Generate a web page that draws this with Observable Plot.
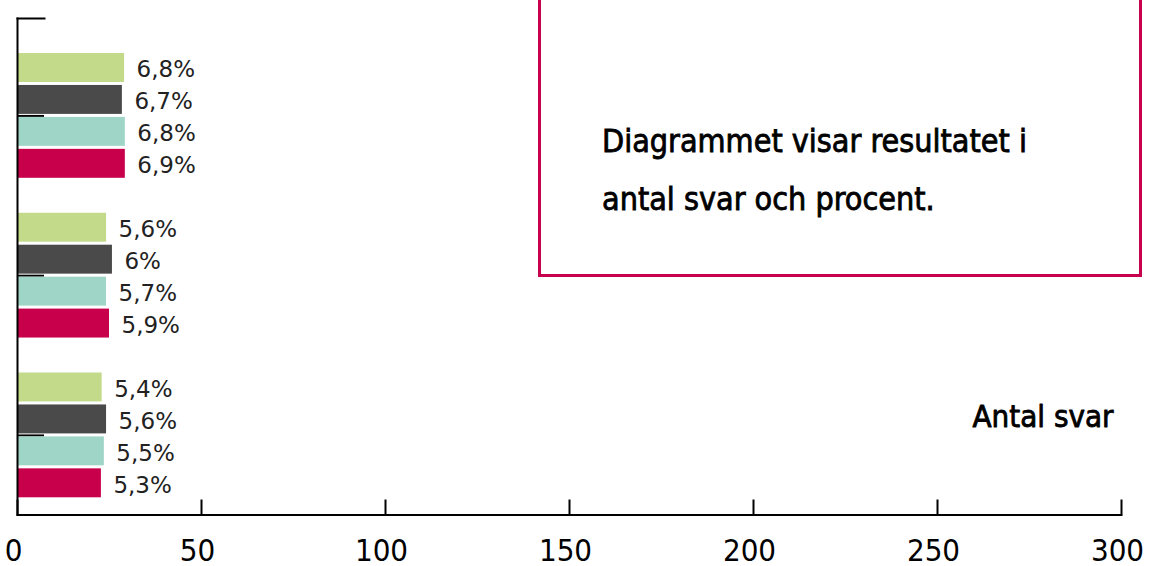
<!DOCTYPE html>
<html>
<head>
<meta charset="utf-8">
<script src="https://cdn.jsdelivr.net/npm/d3@7"></script>
<script src="https://cdn.jsdelivr.net/npm/@observablehq/plot@0.6"></script>
<style>
  html, body { margin: 0; padding: 0; background: #fff; overflow: hidden; }
  #wrap { position: relative; width: 1155px; height: 566px; }
  #note {
    position: absolute; left: 538px; top: -10px; width: 604px; height: 287px;
    border: 3px solid #c8004e; box-sizing: border-box;
    font-family: "DejaVu Sans Condensed", "DejaVu Sans", sans-serif; font-stretch: condensed;
    font-size: 32px; line-height: 58px; color: #000;
    padding-left: 61px; padding-top: 119px;
    -webkit-text-stroke: 0.8px #000;
  }
  #note div { white-space: nowrap; }
</style>
</head>
<body>
<div id="wrap"></div>
<script>
// Categories (groups, top to bottom) and series (bars within a group, top to bottom)
const categories = ["Grupp 1", "Grupp 2", "Grupp 3"];
const series = ["Serie 1", "Serie 2", "Serie 3", "Serie 4"];
const seriesColors = ["#c2da8a", "#4a4a4a", "#9fd5c7", "#c8004b"];

// Antal svar per series (one value per category)
const serie1Values = [29.1, 24.2, 23.0];
const serie2Values = [28.5, 25.8, 24.2];
const serie3Values = [29.3, 24.2, 23.6];
const serie4Values = [29.3, 25.0, 22.8];

// Percent labels per series
const serie1Labels = ["6,8%", "5,6%", "5,4%"];
const serie2Labels = ["6,7%", "6%", "5,6%"];
const serie3Labels = ["6,8%", "5,7%", "5,5%"];
const serie4Labels = ["6,9%", "5,9%", "5,3%"];

const xTicks = [0, 50, 100, 150, 200, 250, 300];
const axisTitle = "Antal svar";
const noteLines = ["Diagrammet visar resultatet i", "antal svar och procent."];

const valuesBySeries = [serie1Values, serie2Values, serie3Values, serie4Values];
const labelsBySeries = [serie1Labels, serie2Labels, serie3Labels, serie4Labels];

const data = [];
categories.forEach((c, ci) => {
  series.forEach((s, si) => {
    data.push({category: c, series: s, slot: `${c}|${s}`, value: valuesBySeries[si][ci], label: labelsBySeries[si][ci]});
  });
});
// slot domain: 4 bars per group with an empty slot between groups
const slots = [];
categories.forEach((c, ci) => {
  series.forEach(s => slots.push(`${c}|${s}`));
  if (ci < categories.length - 1) slots.push(`gap${ci}`);
});

const W = 1155, H = 566;
const mL = 17, mR = 34, mT = 18, mB = 51.5;
const condensed = "'DejaVu Sans Condensed', 'DejaVu Sans', sans-serif";

const chart = Plot.plot({
  width: W, height: H,
  marginLeft: mL, marginRight: mR, marginTop: mT, marginBottom: mB,
  style: {background: "transparent", overflow: "visible"},
  x: {domain: [0, 300], axis: null},
  y: {domain: slots, padding: 0.094, round: false, insetTop: 32, insetBottom: 14.2, axis: null},
  color: {domain: series, range: seriesColors},
  marks: [
    // y-axis category ticks (group centers), drawn behind bars
    Plot.ruleY(categories, {y: c => `${c}|${series[1]}`, dy: 16, x1: 0, x2: 0, insetRight: -27, stroke: "#000", strokeWidth: 2}),
    Plot.frame({anchor: "top", insetRight: W - mR - 44, stroke: "#000", strokeWidth: 2}),
    Plot.barX(data, {x: "value", y: "slot", fill: "series"}),
    Plot.text(data, {x: "value", y: "slot", text: "label", dx: 12, dy: 2, textAnchor: "start",
      fontSize: 23, fill: "#222", fontFamily: "'DejaVu Sans', Verdana, sans-serif"}),
    Plot.frame({anchor: "left", stroke: "#000", strokeWidth: 2}),
    Plot.frame({anchor: "bottom", stroke: "#000", strokeWidth: 2}),
    Plot.axisX({ticks: xTicks, tickSize: -15, strokeWidth: 2, text: null, label: null}),
    Plot.axisX({ticks: xTicks, tickSize: 0, tickPadding: 24, dx: -4,
      tickFormat: d => String(d), fontSize: 31, fontFamily: condensed, fill: "#000", label: null}),
    Plot.text([axisTitle], {frameAnchor: "bottom-right", textAnchor: "end", dx: -8, dy: -88.5,
      fontSize: 31, fontFamily: condensed, fill: "#000", stroke: "#000", strokeWidth: 0.8})
  ]
});

const wrap = document.getElementById("wrap");
wrap.appendChild(chart);
const note = document.createElement("div");
note.id = "note";
noteLines.forEach(t => { const d = document.createElement("div"); d.textContent = t; note.appendChild(d); });
wrap.appendChild(note);
</script>
</body>
</html>
